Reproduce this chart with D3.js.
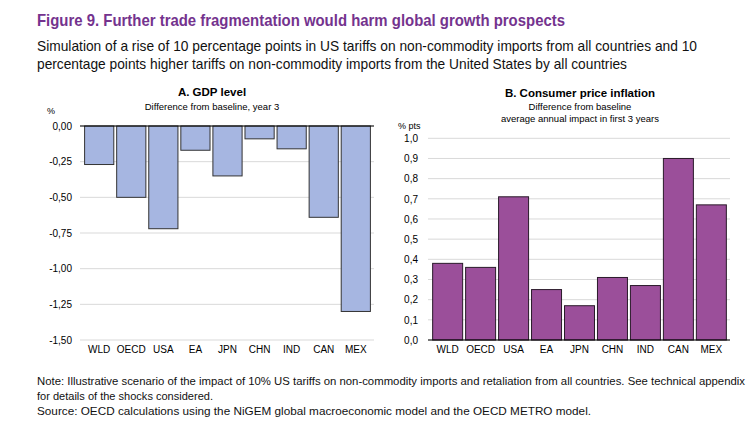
<!DOCTYPE html>
<html>
<head>
<meta charset="utf-8">
<script src="https://cdn.jsdelivr.net/npm/d3@7"></script>
<style>
  body { margin: 0; background: #fff; }
  text { font-family: "Liberation Sans Narrow", "Arial Narrow", "Liberation Sans", Arial, sans-serif; }
  .ax text { font-family: "Liberation Sans", Arial, sans-serif; }
</style>
</head>
<body>
<svg id="chart" width="756" height="422"></svg>
<script>
// data
const countries = ['WLD', 'OECD', 'USA', 'EA', 'JPN', 'CHN', 'IND', 'CAN', 'MEX'];
const gdpLevel = [-0.27, -0.50, -0.72, -0.17, -0.35, -0.09, -0.16, -0.64, -1.30];
const cpiImpact = [0.38, 0.36, 0.71, 0.25, 0.17, 0.31, 0.27, 0.90, 0.67];
const gdpTicks = [0, -0.25, -0.5, -0.75, -1.0, -1.25, -1.5];
const cpiTicks = [0, 0.1, 0.2, 0.3, 0.4, 0.5, 0.6, 0.7, 0.8, 0.9, 1.0];

const svg = d3.select('#chart');
const sans = '"Liberation Sans", Arial, sans-serif';

// heading + notes (fitted widths since narrow font may be missing)
function line(txt, x, y, w, size, opts) {
  const t = svg.append('text').attr('x', x).attr('y', y)
    .attr('font-size', size).text(txt)
    .attr('textLength', w).attr('lengthAdjust', 'spacingAndGlyphs');
  if (opts) Object.entries(opts).forEach(([k, v]) => t.attr(k, v));
  return t;
}
line('Figure 9. Further trade fragmentation would harm global growth prospects', 37, 26, 528, 17,
  { 'font-weight': 'bold', fill: '#74338e' });
line('Simulation of a rise of 10 percentage points in US tariffs on non-commodity imports from all countries and 10', 37, 51, 660, 14.5, { fill: '#111' });
line('percentage points higher tariffs on non-commodity imports from the United States by all countries', 37, 69, 590, 14.5, { fill: '#111' });
line('Note: Illustrative scenario of the impact of 10% US tariffs on non-commodity imports and retaliation from all countries. See technical appendix', 37, 385, 708, 11.5, { fill: '#111' });
line('for details of the shocks considered.', 37, 400, 176, 11.5, { fill: '#111' });
line('Source: OECD calculations using the NiGEM global macroeconomic model and the OECD METRO model.', 37, 415, 554, 11.5, { fill: '#111' });

function panel(cfg) {
  const x = d3.scaleBand().domain(countries).range([cfg.x0, cfg.x1]).paddingInner(0.09).paddingOuter(0.05);
  const y = d3.scaleLinear().domain(cfg.domain).range([cfg.yTop, cfg.yBot]);
  const g = svg.append('g');

  // grid
  g.selectAll('line.grid').data(cfg.ticks).join('line')
    .attr('x1', cfg.gx0).attr('x2', cfg.x1 + 2)
    .attr('y1', d => y(d)).attr('y2', d => y(d))
    .attr('stroke', '#d9d9d9').attr('stroke-width', 1);

  // y tick labels
  const ax = g.append('g').attr('class', 'ax')
    .attr('transform', `translate(${cfg.labelX},0)`)
    .call(d3.axisLeft(y).tickValues(cfg.ticks).tickSize(0).tickPadding(0)
      .tickFormat(d => d3.format(cfg.fmt)(d).replace('.', ',').replace('−', '-')));
  ax.select('.domain').remove();
  ax.selectAll('text').attr('font-size', 10).attr('fill', '#000').attr('font-family', sans);

  // bars
  g.selectAll('rect.bar').data(cfg.values).join('rect')
    .attr('x', (d, i) => x(countries[i]))
    .attr('width', x.bandwidth())
    .attr('y', d => y(Math.max(0, d)))
    .attr('height', d => Math.abs(y(d) - y(0)))
    .attr('fill', cfg.color).attr('stroke', cfg.stroke).attr('stroke-width', 1);

  // zero / base line
  g.append('line').attr('x1', cfg.gx0).attr('x2', cfg.x1 + 2)
    .attr('y1', y(0)).attr('y2', y(0)).attr('stroke', '#000').attr('stroke-width', 1.2);

  // category labels
  const xa = g.append('g').attr('class', 'ax')
    .attr('transform', `translate(0,${cfg.yLab})`)
    .call(d3.axisBottom(x).tickSize(0).tickPadding(0));
  xa.select('.domain').remove();
  xa.selectAll('text').attr('font-size', 10).attr('fill', '#000').attr('font-family', sans);

  // titles
  cfg.titles.forEach((t, i) => {
    g.append('text').attr('x', cfg.cx).attr('y', t.y).attr('text-anchor', 'middle')
      .attr('font-family', sans).attr('font-size', t.size)
      .attr('font-weight', i === 0 ? 'bold' : 'normal').text(t.text);
  });
  g.append('text').attr('x', cfg.unitX).attr('y', cfg.unitY)
    .attr('font-family', sans).attr('font-size', 9).text(cfg.unit);
}

panel({
  x0: 83, x1: 372, gx0: 80, yTop: 126, yBot: 340, domain: [0, -1.5],
  ticks: gdpTicks, fmt: '.2f', values: gdpLevel, labelX: 72,
  color: '#a6b6e1', stroke: '#333', yLab: 346, cx: 212, unit: '%', unitX: 47, unitY: 114,
  titles: [{ text: 'A. GDP level', y: 96, size: 11.5 }, { text: 'Difference from baseline, year 3', y: 110, size: 9.5 }]
});

panel({
  x0: 431, x1: 728, gx0: 428, yTop: 138.3, yBot: 340, domain: [1.0, 0],
  ticks: cpiTicks, fmt: '.1f', values: cpiImpact, labelX: 418,
  color: '#9b4f9a', stroke: '#2a1a2a', yLab: 346, cx: 580, unit: '% pts', unitX: 398, unitY: 129,
  titles: [{ text: 'B. Consumer price inflation', y: 97, size: 11.5 },
           { text: 'Difference from baseline', y: 110, size: 9.5 },
           { text: 'average annual impact in first 3 years', y: 122, size: 9.5 }]
});
</script>
</body>
</html>
